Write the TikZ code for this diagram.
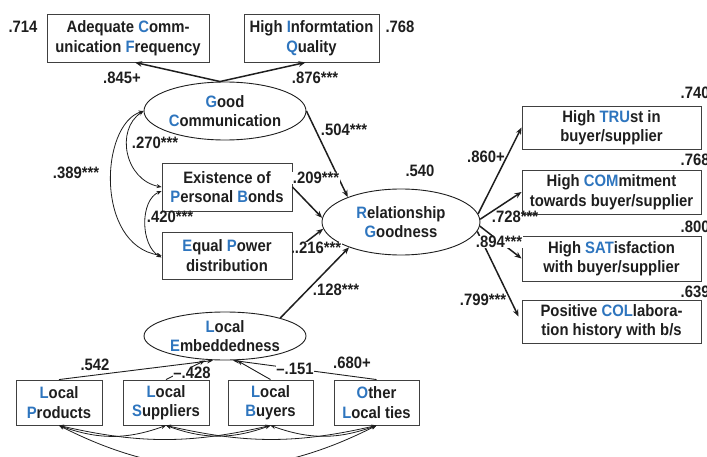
\documentclass[tikz,border=0pt]{standalone}
\usepackage{fontspec}
\setmainfont{Liberation Sans}[FakeStretch=0.9]
\usetikzlibrary{shapes.geometric,arrows.meta}
\definecolor{hl}{RGB}{46,117,190}
\definecolor{ink}{RGB}{30,30,30}
\newcommand{\hi}[1]{\textcolor{hl}{#1}}

\begin{document}
\begin{tikzpicture}[x=1pt,y=-1pt,
  every node/.style={font=\fontsize{16.5}{19.5}\selectfont\bfseries, text=ink},
  obsbox/.style={draw=ink!85, line width=0.9pt, align=center, inner sep=0pt},
  latent/.style={ellipse, draw=ink, line width=0.9pt, align=center, inner sep=0pt},
  coef/.style={inner sep=0.5pt},
  coefw/.style={coef, fill=white},
  path/.style={line width=1.5pt, draw=ink, -{Stealth[length=7pt,width=5.5pt]}},
  ind/.style={line width=0.9pt, draw=ink, -{Stealth[length=6pt,width=4.5pt]}},
  cov/.style={line width=0.8pt, draw=ink, {Stealth[length=5pt,width=4pt]}-{Stealth[length=5pt,width=4pt]}},
]
\clip (0,0) rectangle (707,457);

% communication indicators
\node[obsbox, minimum width=162pt, minimum height=48pt] (acf) at (128,38) {Adequate \hi{C}omm-\\unication \hi{F}requency};
\node[obsbox, minimum width=135pt, minimum height=48pt] (hiq) at (311.5,38) {High \hi{I}nformtation\\\hi{Q}uality};
\node[coef] (r1) at (23,27) {.714};
\node[coef] (r2) at (400,27) {.768};

% latent constructs
\node[latent, minimum width=162pt, minimum height=58pt] (gc) at (225,111) {\hi{G}ood\\\hi{C}ommunication};
\node[latent, minimum width=158pt, minimum height=66pt] (rg) at (401,222) {\hi{R}elationship\\\hi{G}oodness};
\node[coef] (r3) at (420,171) {.540};
\node[latent, minimum width=162pt, minimum height=48pt] (le) at (225,336) {\hi{L}ocal\\\hi{E}mbeddedness};

% observed predictors
\node[obsbox, minimum width=130pt, minimum height=48pt] (epb) at (227,187) {Existence of\\\hi{P}ersonal \hi{B}onds};
\node[obsbox, minimum width=130pt, minimum height=47pt] (ep) at (227,255.5) {\hi{E}qual \hi{P}ower\\distribution};

% outcome indicators
\node[obsbox, minimum width=179pt, minimum height=43pt] (tru) at (611.5,127.5) {High \hi{TRU}st in\\buyer/supplier};
\node[obsbox, minimum width=179pt, minimum height=44pt] (com) at (611.5,192) {High \hi{COM}mitment\\towards buyer/supplier};
\node[obsbox, minimum width=179pt, minimum height=45pt] (sat) at (611.5,258.5) {High \hi{SAT}isfaction\\with buyer/supplier};
\node[obsbox, minimum width=179pt, minimum height=43pt] (col) at (611.5,321.5) {Positive \hi{COL}labora-\\tion history with b/s};
\node[coef, anchor=west] (r4) at (680,93) {.740};
\node[coef, anchor=west] (r5) at (680,160) {.768};
\node[coef, anchor=west] (r6) at (680,227) {.800};
\node[coef, anchor=west] (r7) at (680,292) {.639};

% embeddedness indicators
\node[obsbox, minimum width=86pt, minimum height=45pt] (lp) at (59,402.5) {\hi{L}ocal\\\hi{P}roducts};
\node[obsbox, minimum width=86pt, minimum height=45pt] (ls) at (166,402.5) {\hi{L}ocal\\\hi{S}uppliers};
\node[obsbox, minimum width=85pt, minimum height=45pt] (lb) at (270.5,402.5) {\hi{L}ocal\\\hi{B}uyers};
\node[obsbox, minimum width=85pt, minimum height=45pt] (olt) at (376.5,402.5) {\hi{O}ther\\\hi{L}ocal ties};

% loadings of good communication
\draw[path] ([xshift=-5pt]gc.north) -- ([xshift=7pt]acf.south);
\draw[path] ([xshift=-5pt]gc.north) -- ([xshift=-6pt]hiq.south);
\node[coef] at (122,78) {.845+};
\node[coef] at (315,78) {.876***};

% structural paths
\draw[path] (gc.east) -- (rg.155);
\draw[path] (epb.east) -- (rg.177);
\draw[path] ([yshift=3pt]ep.east) -- (rg.185);
\draw[path] (le.18) -- (rg.206);
\node[coef] at (344,130) {.504***};
\node[coefw] at (316,178) {.209***};
\node[coefw] at (318,248) {.216***};
\node[coef] at (336,290) {.128***};

% loadings of relationship goodness
\draw[path] (rg.6) -- (tru.west);
\draw[path] (rg.2) -- (com.west);
\draw[path] (rg.-3) -- (sat.west);
\draw[path] (rg.-7) -- ([shift={(-3pt,5pt)}]col.west);
\node[coef] at (486,157) {.860+};
\node[coef] at (515,217) {.728***};
\node[coefw] at (499,242) {.894***};
\node[coefw] at (483,300) {.799***};

% correlations among predictors
\draw[cov] (gc.west) .. controls (115,130) and (125,180) .. (epb.west);
\draw[cov] (gc.west) .. controls (100,125) and (95,245) .. (ep.west);
\draw[cov] ([yshift=-4pt]epb.west) .. controls (140,200) and (140,245) .. ([yshift=-2pt]ep.west);
\node[coef] at (155,143) {.270***};
\node[coef] at (76,173) {.389***};
\node[coef] at (170,217) {.420***};

% formative indicators of local embeddedness
\draw[ind] (lp.north) -- ([xshift=-12pt]le.south);
\draw[ind] (ls.north) -- ([xshift=-20pt]le.south);
\draw[ind] (lb.north) -- ([xshift=12pt]le.south);
\draw[ind] (olt.north) -- ([xshift=8pt]le.south);
\node[coef] at (95,365) {.542};
\node[coefw] at (192,373) {–.428};
\node[coefw] at (295,369) {–.151};
\node[coef] at (352,363) {.680+};

% correlations among the embeddedness indicators
\draw[cov] (lp.south) to[out=-20,in=-160] (ls.south);
\draw[cov] (lp.south) to[out=-13,in=-167] (lb.south);
\draw[cov] (lp.south) to[out=-27,in=-153] (olt.south);
\draw[cov] (ls.south) to[out=-20,in=-160] (lb.south);
\draw[cov] (ls.south) to[out=-13,in=-167] (olt.south);
\draw[cov] (lb.south) to[out=-20,in=-160] (olt.south);
\end{tikzpicture}
\end{document}
